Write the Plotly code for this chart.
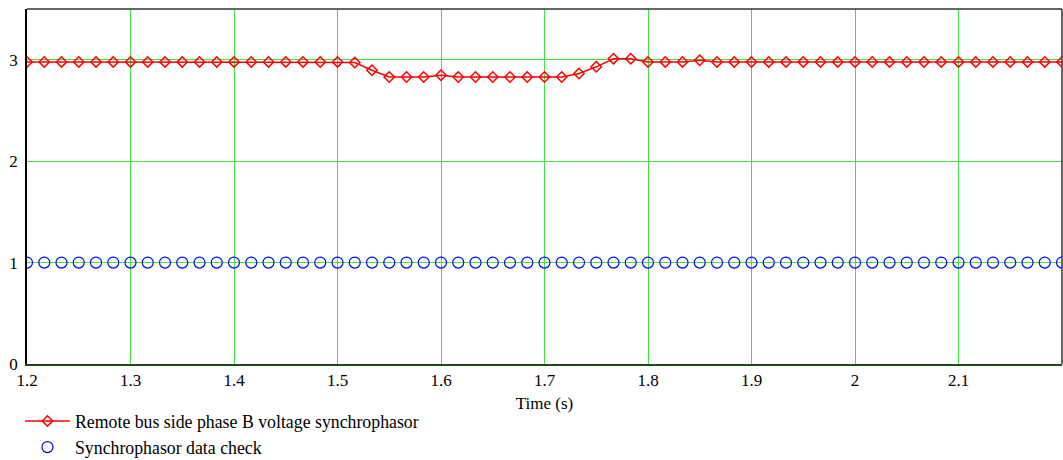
import plotly.graph_objects as go

# sample times: 60 samples per second from 1.2 s to 2.2 s
time_s = [round(1.2 + i / 60, 5) for i in range(61)]

remote_bus_phase_b = [
    2.978, 2.978, 2.978, 2.978, 2.978, 2.978, 2.978, 2.978, 2.978, 2.978,  # 1.200-1.350
    2.978, 2.978, 2.978, 2.978, 2.978, 2.978, 2.978, 2.978, 2.978, 2.972,  # 1.367-1.517
    2.896, 2.830, 2.830, 2.830, 2.847, 2.830, 2.830, 2.830, 2.830, 2.830,  # 1.533-1.683
    2.830, 2.830, 2.864, 2.930, 3.010, 3.010, 2.978, 2.978, 2.978, 2.995,  # 1.700-1.850
    2.978, 2.978, 2.978, 2.978, 2.978, 2.978, 2.978, 2.978, 2.978, 2.978,  # 1.867-2.017
    2.978, 2.978, 2.978, 2.978, 2.978, 2.978, 2.978, 2.978, 2.978, 2.978,  # 2.033-2.183
    2.978,                                                                  # 2.200
]
data_check = [1.0] * 61

x_ticks = [1.2, 1.3, 1.4, 1.5, 1.6, 1.7, 1.8, 1.9, 2.0, 2.1]
x_tick_labels = ["1.2", "1.3", "1.4", "1.5", "1.6", "1.7", "1.8", "1.9", "2", "2.1"]
y_ticks = [0, 1, 2, 3]
y_tick_labels = ["0", "1", "2", "3"]

FONT = "Liberation Serif"

fig = go.Figure()
fig.add_trace(go.Scatter(
    x=time_s, y=remote_bus_phase_b, mode="lines+markers",
    name="Remote bus side phase B voltage synchrophasor",
    line=dict(color="#ff0000", width=1.5),
    marker=dict(symbol="diamond-open", size=8, color="#ff0000", line=dict(width=1.5)),
))
fig.add_trace(go.Scatter(
    x=time_s, y=data_check, mode="markers",
    name="Synchrophasor data check",
    marker=dict(symbol="circle-open", size=11, color="#0000ff", line=dict(width=1.2)),
))

fig.update_layout(
    width=1063, height=460,
    margin=dict(l=27, r=1, t=9, b=96, autoexpand=False),
    paper_bgcolor="white", plot_bgcolor="white",
    font=dict(family=FONT, size=17, color="black"),
    showlegend=True,
    legend=dict(
        x=-0.0068, y=-0.1095, xanchor="left", yanchor="top",
        font=dict(family=FONT, size=17.8, color="black"),
        bgcolor="rgba(0,0,0,0)", tracegroupgap=0, itemwidth=45,
    ),
    xaxis=dict(
        range=[1.2, 2.2], tickvals=x_ticks, ticktext=x_tick_labels,
        showgrid=True, gridcolor="#44e044", gridwidth=1,
        zeroline=False, showline=True, linecolor="#1e4a1e", linewidth=2,
        mirror=False, ticks="", tickfont=dict(family=FONT, size=17),
        automargin=False,
        title=dict(text="Time (s)", font=dict(family=FONT, size=17), standoff=8),
    ),
    yaxis=dict(
        range=[0, 3.5], tickvals=y_ticks, ticktext=y_tick_labels,
        showgrid=True, gridcolor="#44e044", gridwidth=1,
        zeroline=False, showline=True, linecolor="black", linewidth=1.5,
        mirror=False, ticks="", tickfont=dict(family=FONT, size=17),
        automargin=False, ticklabelstandoff=4,
    ),
    shapes=[
        dict(type="line", xref="paper", yref="paper", x0=0, x1=1, y0=1, y1=1,
             line=dict(color="#333333", width=1.5)),
        dict(type="line", xref="paper", yref="paper", x0=1, x1=1, y0=0, y1=1,
             line=dict(color="#333333", width=1.5)),
    ],
)

fig.write_html("out.html", config={"displayModeBar": False},
               post_script="document.body.style.margin='0';")
